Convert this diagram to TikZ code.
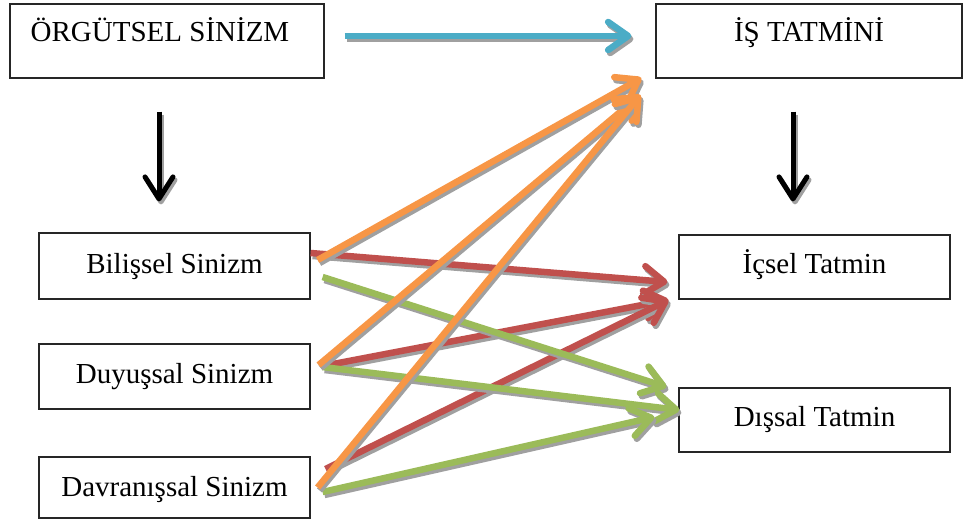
\documentclass[tikz,border=0pt]{standalone}
\usepackage{fontspec}
\setmainfont{Liberation Serif}
\usetikzlibrary{arrows.meta,calc}
\definecolor{cOrange}{HTML}{F79646}
\definecolor{cRed}{HTML}{C0504D}
\definecolor{cGreen}{HTML}{9BBB59}
\definecolor{cBlue}{HTML}{4BACC6}
\definecolor{cShadow}{HTML}{A0A0A0}
\newcommand\shArrow[5]{%
  \draw[line width=#2, draw=cShadow, -{Straight Barb[length=#5,width=28pt,round]}, transform canvas={shift={(2pt,-3pt)}}] (#3) -- (#4);
  \draw[line width=#2, draw=#1, -{Straight Barb[length=#5,width=28pt,round]}] (#3) -- (#4);}
\tikzset{
  box/.style={draw=black!85, line width=1.2pt, inner xsep=0pt, inner ysep=0pt, anchor=base,
    font=\fontsize{29pt}{32pt}\selectfont},
}
\begin{document}
\begin{tikzpicture}[x=1pt,y=-1pt]
\useasboundingbox (0,0) rectangle (964,519);
% boxes
\node[box, minimum width=314pt, text height=38pt, text depth=36pt] (org) at (167,42) {ÖRGÜTSEL SİNİZM\hspace*{14pt}};
\node[box, minimum width=306pt, text height=38pt, text depth=36pt] (is) at (809,42) {İŞ TATMİNİ};
\node[box, minimum width=271pt, text height=40pt, text depth=26pt] (bil) at (174.5,273) {Bilişsel Sinizm};
\node[box, minimum width=271pt, text height=39pt, text depth=26pt] (duy) at (174.5,383) {Duyuşsal Sinizm};
\node[box, minimum width=271pt, text height=39pt, text depth=22pt] (dav) at (174.5,496) {Davranışsal Sinizm};
\node[box, minimum width=271pt, text height=38pt, text depth=26pt] (ic) at (814.5,273) {İçsel Tatmin};
\node[box, minimum width=271pt, text height=38pt, text depth=26pt] (dis) at (814.5,426) {Dışsal Tatmin};
% end points
\coordinate (bO) at ($(bil.east)+(7,-6)$);
\coordinate (bR) at ($(bil.east)+(0,-13)$);
\coordinate (bG) at ($(bil.east)+(12,11)$);
\coordinate (uO) at ($(duy.east)+(8,-11.5)$);
\coordinate (uR) at ($(duy.east)+(12,-10.5)$);
\coordinate (uG) at ($(duy.east)+(12,-9.5)$);
\coordinate (vO) at ($(dav.east)+(7,0)$);
\coordinate (vR) at ($(dav.east)+(15,-18.5)$);
\coordinate (vG) at ($(dav.east)+(12,4.5)$);
\coordinate (tO1) at ($(is.west)+(-14,37)$);
\coordinate (tO2) at ($(is.west)+(-15,54)$);
\coordinate (tR1) at ($(ic.west)+(-11,15)$);
\coordinate (tR2) at ($(ic.west)+(-10,33)$);
\coordinate (tG1) at ($(dis.west)+(-12,-33)$);
\coordinate (tG2) at ($(dis.west)+(1,-10)$);
\coordinate (tG3) at ($(dis.west)+(-24,-3)$);
\coordinate (bS) at ($(org.east)+(20,-5)$);
\coordinate (bT) at ($(is.west)+(-24,-5)$);
\coordinate (kL1) at ($(org.south)+(-8,33)$);
\coordinate (kL2) at ($(bil.north)+(-15.5,-31)$);
\coordinate (kR1) at ($(is.south)+(-16,33)$);
\coordinate (kR2) at ($(ic.north)+(-21.5,-33)$);
% red
\shArrow{cRed}{6.5pt}{bR}{tR1}{20pt}
\shArrow{cRed}{6.5pt}{uR}{tR2}{20pt}
\shArrow{cRed}{6.5pt}{vR}{tR2}{20pt}
% green
\shArrow{cGreen}{6.5pt}{bG}{tG1}{20pt}
\shArrow{cGreen}{6.5pt}{uG}{tG2}{20pt}
\shArrow{cGreen}{6.5pt}{vG}{tG3}{20pt}
% orange
\shArrow{cOrange}{6.5pt}{bO}{tO1}{20pt}
\shArrow{cOrange}{6.5pt}{uO}{tO2}{20pt}
\shArrow{cOrange}{6.5pt}{vO}{tO2}{20pt}
% blue
\shArrow{cBlue}{6.5pt}{bS}{bT}{20pt}
% black
\shArrow{black}{5pt}{kL1}{kL2}{22pt}
\shArrow{black}{5pt}{kR1}{kR2}{22pt}
\end{tikzpicture}
\end{document}
